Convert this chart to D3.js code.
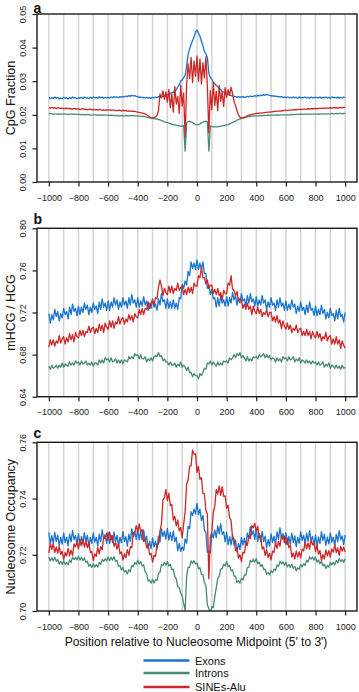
<!DOCTYPE html>
<html><head><meta charset="utf-8">
<script src="https://cdn.jsdelivr.net/npm/d3@7"></script>
<style>body{margin:0;background:#fff;}svg{display:block;font-family:"Liberation Sans",Arial,Helvetica,sans-serif;}</style>
</head><body><svg id="chart" width="359" height="692"></svg>
<script>
// x positions (bp relative to nucleosome midpoint), one per value
const positions = d3.range(-1000, 1001, 10);
const xTicks = [-1000,-800,-600,-400,-200,0,200,400,600,800,1000];
const gridPositions = [-1000,-900,-800,-700,-600,-500,-400,-300,-200,-100,0,100,200,300,400,500,600,700,800,900,1000];
const seriesNames = ["Exons","Introns","SINEs-Alu"];
const seriesColors = ["#1874CD","#458B74","#CD2626"];
const yTicksA = [0,0.01,0.02,0.03,0.04,0.05];
const yTicksB = [0.64,0.68,0.72,0.76,0.80];
const yTicksC = [0.70,0.72,0.74,0.76];

// Panel a: CpG fraction
const exonsA = [
.0252,.0248,.0251,.0249,.0253,.0249,.0252,.0247,.0250,.0248,.0252,.0249,.0251,.0247,.0252,.0248,.0253,.0250,.0251,.0248,
.0251,.0249,.0252,.0248,.0253,.0250,.0251,.0248,.0252,.0249,.0253,.0250,.0252,.0249,.0254,.0250,.0253,.0249,.0252,.0250,
.0252,.0250,.0253,.0251,.0254,.0252,.0253,.0251,.0254,.0252,.0255,.0253,.0256,.0254,.0257,.0255,.0258,.0256,.0257,.0255,
.0254,.0252,.0253,.0251,.0252,.0250,.0252,.0250,.0251,.0249,.0252,.0250,.0253,.0251,.0254,.0252,.0255,.0254,.0257,.0256,
.0259,.0262,.0262,.0266,.0267,.0272,.0274,.0283,.0289,.0301,.0304,.0311,.0317,.0346,.0379,.0396,.0409,.0421,.0431,.0446,
.0452,
.0444,.0433,.0419,.0406,.0389,.0381,.0371,.0323,.0311,.0306,.0297,.0293,.0287,.0284,.0278,.0275,.0269,.0268,.0263,.0263,
.0260,.0259,.0257,.0256,.0255,.0254,.0252,.0254,.0252,.0253,.0254,.0252,.0253,.0255,.0253,.0256,.0254,.0255,.0257,.0255,
.0258,.0256,.0259,.0257,.0260,.0258,.0261,.0259,.0258,.0256,.0257,.0255,.0256,.0254,.0255,.0253,.0254,.0252,.0253,.0251,
.0253,.0251,.0252,.0250,.0253,.0251,.0252,.0249,.0253,.0250,.0252,.0251,.0253,.0250,.0252,.0249,.0253,.0250,.0252,.0251,
.0252,.0250,.0253,.0249,.0252,.0251,.0253,.0250,.0252,.0249,.0253,.0251,.0252,.0250,.0253,.0249,.0252,.0250,.0253,.0251];
const intronsA = [
.0203,.0204,.0203,.0202,.0203,.0203,.0202,.0203,.0202,.0202,.0203,.0202,.0202,.0201,.0202,.0202,.0201,.0202,.0201,.0201,
.0201,.0201,.0200,.0201,.0200,.0200,.0201,.0200,.0200,.0199,.0200,.0200,.0199,.0200,.0199,.0199,.0200,.0199,.0199,.0199,
.0199,.0198,.0199,.0198,.0198,.0197,.0198,.0197,.0197,.0198,.0197,.0197,.0198,.0197,.0197,.0198,.0197,.0198,.0197,.0197,
.0197,.0196,.0196,.0195,.0195,.0194,.0193,.0192,.0191,.0190,.0190,.0189,.0188,.0187,.0186,.0185,.0183,.0181,.0179,.0178,
.0177,.0175,.0174,.0172,.0171,.0170,.0169,.0168,.0167,.0166,.0166,.0168,.0092,.0176,.0180,.0181,.0179,.0177,.0174,.0171,
.0170,
.0171,.0173,.0176,.0178,.0180,.0181,.0179,.0092,.0167,.0165,.0164,.0164,.0164,.0165,.0165,.0166,.0167,.0168,.0169,.0170,
.0171,.0173,.0175,.0177,.0179,.0181,.0184,.0186,.0188,.0189,.0190,.0191,.0193,.0194,.0195,.0195,.0196,.0196,.0197,.0197,
.0197,.0197,.0198,.0197,.0198,.0198,.0198,.0199,.0198,.0199,.0199,.0199,.0199,.0200,.0199,.0199,.0200,.0200,.0200,.0200,
.0200,.0200,.0200,.0201,.0200,.0201,.0201,.0201,.0201,.0202,.0201,.0201,.0202,.0202,.0201,.0202,.0202,.0202,.0202,.0202,
.0202,.0203,.0202,.0203,.0203,.0202,.0203,.0203,.0203,.0203,.0204,.0203,.0203,.0204,.0203,.0204,.0204,.0203,.0204,.0204];
const sinesA = [
.0221,.0220,.0222,.0220,.0221,.0219,.0221,.0220,.0219,.0220,.0218,.0219,.0220,.0218,.0219,.0218,.0217,.0219,.0218,.0217,
.0218,.0216,.0217,.0218,.0216,.0217,.0215,.0216,.0217,.0215,.0216,.0215,.0216,.0214,.0216,.0215,.0214,.0215,.0214,.0215,
.0214,.0215,.0213,.0214,.0214,.0213,.0212,.0214,.0213,.0212,.0213,.0212,.0213,.0211,.0212,.0211,.0210,.0211,.0210,.0209,
.0208,.0207,.0206,.0205,.0204,.0203,.0200,.0197,.0194,.0191,.0190,.0192,.0194,.0198,.0212,.0262,.0250,.0271,.0246,.0268,
.0238,.0275,.0221,.0262,.0208,.0284,.0232,.0255,.0204,.0288,.0226,.0265,.0134,.0290,.0352,.0308,.0371,.0296,.0360,.0315,
.0375,
.0300,.0366,.0292,.0355,.0310,.0372,.0285,.0146,.0272,.0215,.0296,.0228,.0270,.0212,.0287,.0240,.0268,.0225,.0281,.0252,
.0275,.0258,.0282,.0262,.0240,.0228,.0212,.0200,.0193,.0190,.0191,.0193,.0195,.0197,.0199,.0200,.0201,.0202,.0203,.0204,
.0204,.0205,.0205,.0206,.0206,.0207,.0207,.0208,.0208,.0209,.0209,.0210,.0210,.0211,.0211,.0211,.0212,.0212,.0213,.0213,
.0213,.0214,.0214,.0214,.0215,.0215,.0215,.0216,.0216,.0216,.0216,.0217,.0217,.0217,.0218,.0217,.0218,.0218,.0218,.0219,
.0218,.0219,.0219,.0219,.0220,.0219,.0220,.0220,.0220,.0221,.0220,.0221,.0221,.0221,.0220,.0221,.0222,.0221,.0222,.0222];

// Panel b: mHCG / HCG
const exonsB = [
.719,.710,.718,.713,.723,.716,.721,.712,.719,.715,
.724,.718,.721,.714,.725,.718,.728,.721,.724,.717,
.726,.718,.725,.720,.729,.723,.727,.718,.725,.720,
.729,.723,.726,.719,.730,.723,.733,.725,.729,.722,
.731,.722,.730,.725,.734,.727,.732,.723,.730,.725,
.734,.727,.731,.724,.734,.727,.737,.729,.732,.725,
.734,.725,.731,.726,.735,.727,.731,.722,.729,.724,
.733,.725,.728,.722,.733,.727,.738,.730,.732,.724,
.733,.724,.730,.724,.732,.724,.729,.723,.734,.733,
.747,.743,.750,.746,.759,.755,.768,.762,.767,.761,
.770,.761,.767,.761,.768,.757,.757,.743,.746,.737,
.742,.733,.734,.725,.734,.726,.736,.729,.732,.726,
.735,.726,.734,.729,.739,.732,.736,.727,.734,.729,
.738,.731,.733,.726,.736,.729,.738,.730,.733,.726,
.735,.726,.732,.727,.736,.729,.732,.723,.730,.725,
.734,.727,.729,.722,.732,.725,.734,.726,.729,.722,
.731,.722,.728,.723,.732,.725,.728,.719,.726,.721,
.730,.722,.725,.718,.727,.720,.730,.722,.724,.717,
.726,.717,.723,.718,.727,.719,.723,.714,.720,.715,
.724,.717,.719,.712,.722,.714,.724,.716,.718,.711,
.720];
const intronsB = [
.669,.666,.670,.667,.668,.670,.667,.670,.668,.672,
.668,.671,.670,.669,.673,.670,.672,.670,.674,.672,
.673,.670,.674,.671,.672,.674,.670,.672,.670,.673,
.669,.672,.672,.670,.675,.672,.675,.672,.677,.675,
.676,.673,.677,.673,.674,.676,.672,.675,.672,.675,
.671,.675,.674,.673,.678,.676,.678,.676,.681,.679,
.680,.676,.680,.676,.676,.678,.673,.676,.674,.677,
.674,.678,.679,.678,.682,.678,.679,.674,.676,.673,
.673,.670,.673,.670,.670,.672,.668,.671,.669,.673,
.668,.670,.668,.665,.668,.663,.663,.659,.662,.660,
.660,.657,.662,.660,.663,.667,.666,.672,.671,.674,
.670,.673,.671,.669,.673,.670,.672,.670,.674,.673,
.674,.672,.677,.675,.677,.680,.677,.681,.679,.682,
.677,.679,.677,.674,.678,.674,.676,.674,.678,.677,
.678,.676,.680,.678,.679,.681,.677,.680,.677,.679,
.675,.677,.676,.673,.677,.674,.676,.673,.678,.676,
.677,.674,.678,.675,.676,.678,.673,.676,.674,.677,
.672,.675,.674,.672,.675,.672,.674,.671,.674,.672,
.673,.670,.673,.670,.671,.673,.668,.671,.669,.672,
.667,.670,.669,.667,.670,.667,.669,.666,.670,.667,
.668];
const sinesB = [
.687,.694,.689,.694,.688,.693,.691,.698,.691,.695,
.697,.690,.696,.692,.700,.694,.699,.692,.701,.697,
.696,.703,.698,.703,.697,.702,.701,.707,.701,.705,
.706,.700,.705,.701,.709,.703,.708,.701,.710,.706,
.704,.712,.706,.712,.705,.711,.709,.716,.709,.714,
.715,.709,.714,.711,.718,.713,.717,.711,.719,.716,
.715,.723,.718,.724,.718,.724,.723,.730,.724,.729,
.732,.727,.734,.733,.744,.751,.745,.736,.743,.739,
.737,.745,.739,.745,.738,.743,.741,.748,.741,.744,
.745,.737,.742,.737,.744,.739,.744,.738,.748,.745,
.745,.755,.753,.763,.753,.753,.747,.751,.743,.746,
.746,.738,.742,.737,.743,.736,.739,.732,.741,.738,
.738,.748,.746,.755,.742,.741,.736,.740,.731,.733,
.732,.724,.728,.723,.729,.723,.726,.718,.726,.721,
.719,.725,.719,.723,.716,.720,.718,.723,.716,.720,
.720,.712,.716,.711,.717,.710,.713,.705,.712,.707,
.704,.710,.704,.708,.701,.705,.703,.708,.701,.704,
.705,.698,.702,.698,.704,.698,.702,.695,.702,.698,
.696,.702,.696,.700,.693,.697,.695,.701,.693,.697,
.698,.690,.695,.690,.697,.690,.694,.686,.693,.689,
.686];

// Panel c: nucleosome occupancy
const exonsC = [
.7280,.7238,.7268,.7241,.7280,.7247,.7270,.7232,.7262,.7238,
.7277,.7244,.7263,.7232,.7273,.7246,.7287,.7254,.7268,.7237,
.7275,.7234,.7265,.7240,.7279,.7246,.7269,.7230,.7262,.7240,
.7278,.7245,.7262,.7231,.7273,.7247,.7289,.7257,.7272,.7241,
.7280,.7240,.7270,.7243,.7281,.7247,.7269,.7230,.7263,.7242,
.7282,.7248,.7264,.7231,.7273,.7248,.7292,.7263,.7282,.7255,
.7294,.7253,.7282,.7253,.7288,.7250,.7266,.7221,.7248,.7222,
.7260,.7228,.7248,.7220,.7266,.7245,.7292,.7265,.7284,.7256,
.7294,.7252,.7280,.7250,.7285,.7247,.7262,.7214,.7240,.7212,
.7228,.7215,.7256,.7241,.7301,.7293,.7353,.7340,.7362,.7345,
.7383,.7342,.7362,.7322,.7340,.7288,.7280,.7209,.7210,.7207,
.7277,.7260,.7288,.7261,.7303,.7274,.7311,.7273,.7282,.7246,
.7280,.7236,.7264,.7235,.7271,.7234,.7252,.7210,.7240,.7219,
.7262,.7234,.7258,.7232,.7278,.7256,.7300,.7270,.7286,.7255,
.7291,.7248,.7276,.7247,.7283,.7247,.7266,.7224,.7254,.7232,
.7274,.7245,.7266,.7238,.7281,.7255,.7296,.7262,.7275,.7242,
.7278,.7236,.7265,.7238,.7277,.7244,.7267,.7229,.7262,.7241,
.7282,.7251,.7270,.7238,.7277,.7248,.7286,.7251,.7265,.7234,
.7271,.7231,.7264,.7240,.7282,.7250,.7273,.7233,.7263,.7239,
.7278,.7245,.7263,.7232,.7273,.7246,.7286,.7253,.7267,.7237,
.7270];
const intronsC = [
.7192,.7178,.7189,.7179,.7191,.7177,.7183,.7167,.7176,.7166,
.7179,.7166,.7173,.7164,.7181,.7173,.7192,.7183,.7191,.7182,
.7195,.7181,.7191,.7179,.7189,.7173,.7177,.7159,.7166,.7155,
.7168,.7156,.7165,.7156,.7173,.7165,.7184,.7176,.7186,.7178,
.7192,.7179,.7191,.7181,.7193,.7177,.7180,.7159,.7162,.7146,
.7155,.7139,.7144,.7132,.7147,.7140,.7162,.7158,.7172,.7166,
.7181,.7167,.7176,.7160,.7164,.7139,.7133,.7107,.7110,.7099,
.7112,.7100,.7111,.7108,.7134,.7137,.7165,.7162,.7173,.7163,
.7176,.7160,.7166,.7147,.7149,.7122,.7115,.7086,.7084,.7064,
.7053,.7026,.7002,.7122,.7156,.7155,.7178,.7170,.7179,.7167,
.7171,.7150,.7154,.7130,.7129,.7102,.7090,.7022,.7009,.6988,
.7016,.7012,.7051,.7082,.7116,.7123,.7150,.7150,.7166,.7161,
.7176,.7158,.7162,.7143,.7147,.7125,.7123,.7101,.7108,.7099,
.7116,.7111,.7128,.7128,.7154,.7155,.7180,.7174,.7184,.7174,
.7186,.7168,.7174,.7158,.7165,.7147,.7149,.7130,.7137,.7128,
.7144,.7136,.7149,.7144,.7164,.7158,.7177,.7168,.7175,.7163,
.7174,.7157,.7166,.7155,.7167,.7152,.7158,.7143,.7154,.7148,
.7165,.7157,.7168,.7162,.7181,.7174,.7193,.7184,.7192,.7181,
.7192,.7174,.7182,.7168,.7177,.7161,.7166,.7151,.7162,.7156,
.7173,.7164,.7173,.7164,.7180,.7171,.7187,.7176,.7183,.7173,
.7186];
const sinesC = [
.7206,.7240,.7219,.7240,.7208,.7228,.7206,.7230,.7201,.7212,
.7184,.7208,.7196,.7223,.7196,.7216,.7198,.7239,.7228,.7245,
.7221,.7254,.7233,.7256,.7227,.7248,.7225,.7245,.7208,.7212,
.7179,.7203,.7194,.7226,.7203,.7229,.7218,.7264,.7258,.7277,
.7251,.7281,.7254,.7268,.7230,.7244,.7220,.7240,.7204,.7210,
.7181,.7203,.7189,.7218,.7198,.7229,.7225,.7279,.7280,.7304,
.7281,.7310,.7280,.7290,.7247,.7256,.7225,.7238,.7201,.7205,
.7174,.7198,.7194,.7238,.7238,.7284,.7310,.7394,.7403,.7432,
.7393,.7419,.7375,.7379,.7323,.7337,.7303,.7324,.7285,.7297,
.7261,.7310,.7353,.7452,.7466,.7515,.7516,.7572,.7558,.7559,
.7493,.7514,.7468,.7474,.7418,.7417,.7358,.7344,.7115,.7262,
.7281,.7350,.7373,.7432,.7416,.7445,.7411,.7442,.7408,.7409,
.7366,.7376,.7332,.7322,.7262,.7256,.7215,.7225,.7188,.7200,
.7176,.7208,.7206,.7246,.7233,.7266,.7258,.7304,.7296,.7312,
.7282,.7301,.7262,.7267,.7220,.7228,.7198,.7218,.7191,.7205,
.7182,.7213,.7209,.7243,.7223,.7248,.7230,.7269,.7254,.7266,
.7236,.7259,.7225,.7234,.7192,.7206,.7185,.7214,.7192,.7210,
.7189,.7220,.7214,.7245,.7221,.7242,.7220,.7254,.7235,.7244,
.7211,.7234,.7202,.7215,.7180,.7201,.7185,.7217,.7196,.7215,
.7192,.7220,.7209,.7236,.7208,.7224,.7198,.7230,.7213,.7227,
.7210];

const panels = [
  {letter:"a", title:"CpG Fraction", domain:[0,0.05], ticks:yTicksA, top:14, bottom:182, series:[exonsA,intronsA,sinesA]},
  {letter:"b", title:"mHCG / HCG", domain:[0.64,0.80], ticks:yTicksB, top:228.3, bottom:396.7, series:[exonsB,intronsB,sinesB]},
  {letter:"c", title:"Nucleosome Occupancy", domain:[0.70,0.76], ticks:yTicksC, top:442.3, bottom:611, series:[exonsC,intronsC,sinesC]}
];

const svg = d3.select("#chart");
const left = 37, right = 357;
const x = d3.scaleLinear().domain([-1080, 1080]).range([left, right]);
const defs = svg.append("defs");

panels.forEach((p, pi) => {
  const y = d3.scaleLinear().domain(p.domain).range([p.bottom, p.top]);
  const g = svg.append("g");
  defs.append("clipPath").attr("id", "clip" + pi)
    .append("rect").attr("x", left).attr("y", p.top).attr("width", right - left).attr("height", p.bottom - p.top);

  // grid
  g.selectAll("line.grid").data(gridPositions).join("line")
    .attr("class", "grid")
    .attr("x1", d => x(d)).attr("x2", d => x(d))
    .attr("y1", p.top).attr("y2", p.bottom)
    .attr("stroke", "#d4d4d4").attr("stroke-width", 1.5);

  // series
  const line = d3.line().x((d, i) => x(positions[i])).y(d => y(d));
  const lg = g.append("g").attr("clip-path", "url(#clip" + pi + ")");
  p.series.forEach((s, si) => {
    lg.append("path").datum(s).attr("d", line)
      .attr("fill", "none").attr("stroke", seriesColors[si])
      .attr("stroke-width", 1.3).attr("stroke-linejoin", "round");
  });

  // box
  g.append("rect").attr("x", left).attr("y", p.top)
    .attr("width", right - left).attr("height", p.bottom - p.top)
    .attr("fill", "none").attr("stroke", "#1a1a1a").attr("stroke-width", 1.4);

  // x axis
  const xa = g.append("g").attr("transform", `translate(0,${p.bottom})`)
    .call(d3.axisBottom(x).tickValues(xTicks).tickSize(4.5).tickFormat(d3.format("d")));
  xa.select(".domain").remove();
  xa.selectAll(".tick line").attr("stroke", "#1a1a1a").attr("stroke-width", 1.2);
  xa.selectAll(".tick text").attr("y", 18.5).attr("dy", null)
    .attr("font-size", 9).attr("fill", "#1a1a1a").attr("font-family", null);

  // y axis
  const ya = g.append("g").attr("transform", `translate(${left},0)`)
    .call(d3.axisLeft(y).tickValues(p.ticks).tickSize(4.5).tickFormat(d3.format(".2f")));
  ya.select(".domain").remove();
  ya.selectAll(".tick line").attr("stroke", "#1a1a1a").attr("stroke-width", 1.2);
  ya.selectAll(".tick text").attr("x", null).attr("dy", null)
    .attr("transform", "translate(-11.5,0) rotate(-90)")
    .attr("text-anchor", "middle")
    .attr("font-size", 9).attr("fill", "#1a1a1a").attr("font-family", null);

  // titles
  svg.append("text").attr("transform", `translate(14.5,${(p.top + p.bottom) / 2}) rotate(-90)`)
    .attr("text-anchor", "middle").attr("font-size", 12.5).attr("fill", "#111").text(p.title);
  svg.append("text").attr("x", 33.5).attr("y", Math.max(p.top - 4.5, 13))
    .attr("font-size", 14).attr("font-weight", "bold").attr("fill", "#111").text(p.letter);
});

svg.append("text").attr("x", (left + right) / 2 - 1).attr("y", 646)
  .attr("text-anchor", "middle").attr("font-size", 12).attr("fill", "#111")
  .text("Position relative to Nucleosome Midpoint (5' to 3')");

// legend
const legendY = [660.5, 673, 687];
const lgd = svg.append("g");
seriesNames.forEach((name, i) => {
  lgd.append("line").attr("x1", 143.5).attr("x2", 189.5).attr("y1", legendY[i]).attr("y2", legendY[i])
    .attr("stroke", seriesColors[i]).attr("stroke-width", 2.4);
  lgd.append("text").attr("x", 195).attr("y", legendY[i] + 4)
    .attr("font-size", 11).attr("fill", "#111").text(name);
});
</script></body></html>
